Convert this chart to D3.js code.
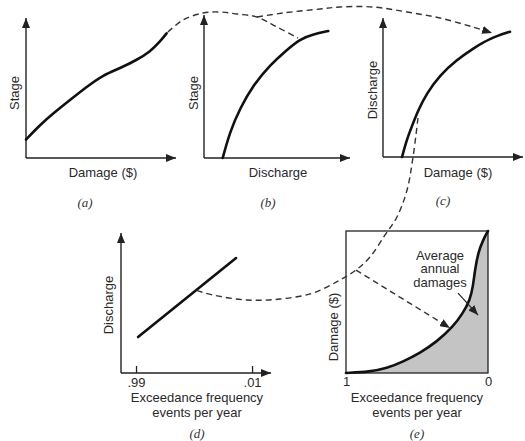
<!DOCTYPE html>
<html>
<head>
<meta charset="utf-8">
<script src="https://cdn.jsdelivr.net/npm/d3@7"></script>
<style>
  body { margin: 0; background: #fff; }
  svg { display: block; }
  .lbl { font-family: "Liberation Sans", Arial, sans-serif; font-size: 13px; fill: #2a2a2a; }
  .tag { font-family: "Liberation Serif", "Times New Roman", serif; font-size: 13px; fill: #333; font-style: italic; }
</style>
</head>
<body>
<script>
"use strict";

// curve shapes, each in its own panel's units (0..10 on both axes)
var curveA = [[0, 1.32], [0.93, 2.36], [1.82, 3.19], [2.93, 4.14], [4.05, 5.09], [5.15, 5.93], [6.27, 6.41],
              [7.38, 7.0], [8.27, 7.59], [8.93, 8.31], [9.38, 8.91]];
var curveB = [[1.28, 0], [1.78, 1.84], [2.47, 3.48], [3.38, 5.10], [4.52, 6.50], [5.66, 7.55], [6.58, 8.32],
              [7.49, 8.65], [8.51, 8.88]];
var curveC = [[1.36, 0], [1.69, 1.22], [2.05, 2.18], [2.52, 3.38], [3.12, 4.58], [4.07, 5.90], [5.26, 6.98],
              [6.45, 7.82], [7.64, 8.54], [9.07, 9.01]];
// panel d: exceedance frequency vs discharge
var lineD = [[0.973, 2.57], [0.145, 8.21]];
var ticksD = [0.99, 0.01];
var tickLabelsD = [".99", ".01"];
// panel e: exceedance frequency vs damage
var curveE = [[1, 0], [0.831, 0.09], [0.713, 0.33], [0.599, 0.8], [0.479, 1.41], [0.361, 2.2], [0.246, 3.26],
              [0.176, 4.23], [0.127, 5.14], [0.106, 6.08], [0.092, 7.25], [0.07, 8.45], [0.035, 9.37], [0, 10]];
var ticksE = [1, 0];

// dashed construction lines (top ones in panel b units, lower ones in panel e units)
var dashAB = [[-2.47, 8.81], [-1.44, 9.65], [-0.07, 10.14], [1.10, 10.21], [2.26, 10.07], [3.63, 9.86], [5.0, 9.16], [6.44, 8.39]];
var dashBC = [[3.63, 9.86], [5.41, 10.14], [7.95, 10.42], [9.32, 10.56], [11.58, 10.56], [13.9, 10.21], [16.16, 9.79], [18.42, 9.16], [19.73, 8.74]];
var dashCD = [[0.493, 17.96], [0.528, 15.21], [0.570, 12.89], [0.641, 10.99], [0.725, 9.72], [0.831, 8.17], [0.930, 7.25],
              [1.042, 6.55], [1.232, 5.63], [1.465, 5.21], [1.697, 5.14], [1.937, 5.49], [2.063, 5.85]];
var dashE = [[0.930, 7.25], [0.268, 3.17]];
var noteArrow = [[0.211, 5.63], [0.070, 4.08]];
var noteLines = ["Average", "annual", "damages"];

var W = 525, H = 441;
var svg = d3.select("body").append("svg").attr("width", W).attr("height", H);

var defs = svg.append("defs");
defs.append("marker").attr("id", "arr")
    .attr("markerUnits", "userSpaceOnUse")
    .attr("markerWidth", 10).attr("markerHeight", 8)
    .attr("refX", 10).attr("refY", 4).attr("orient", "auto")
  .append("path").attr("d", "M0,0 L10,4 L0,8 z").attr("fill", "#222");

// panel scales
var ax = d3.scaleLinear().domain([0, 10]).range([26, 176]),
    ay = d3.scaleLinear().domain([0, 10]).range([158, 18]);
var bx = d3.scaleLinear().domain([0, 10]).range([204, 350]),
    by = d3.scaleLinear().domain([0, 10]).range([158, 15]);
var cx = d3.scaleLinear().domain([0, 10]).range([383, 523]),
    cy = d3.scaleLinear().domain([0, 10]).range([157, 18]);
var dx = d3.scaleLinear().domain([1.117, -0.15]).range([121, 271]),
    dy = d3.scaleLinear().domain([0, 10]).range([373, 233]);
var ex = d3.scaleLinear().domain([1, 0]).range([346, 488]),
    ey = d3.scaleLinear().domain([0, 10]).range([373, 231]);

function lineOf(x, y, curve) {
    return d3.line().x(d => x(d[0])).y(d => y(d[1])).curve(curve || d3.curveCatmullRom);
}

function arrowAxes(x, y) {
    var x0 = x.range()[0], x1 = x.range()[1], y0 = y.range()[0], y1 = y.range()[1];
    var g = svg.append("g").attr("stroke", "#222").attr("stroke-width", 1.4).attr("fill", "none");
    g.append("line").attr("x1", x0).attr("y1", y0).attr("x2", x0).attr("y2", y1).attr("marker-end", "url(#arr)");
    g.append("line").attr("x1", x0).attr("y1", y0).attr("x2", x1).attr("y2", y0).attr("marker-end", "url(#arr)");
}

function text(x, y, s, cls, rot) {
    var t = svg.append("text").attr("class", cls || "lbl").attr("text-anchor", "middle")
        .attr("dominant-baseline", "central").text(s);
    if (rot) t.attr("transform", "translate(" + x + "," + y + ") rotate(-90)");
    else t.attr("x", x).attr("y", y);
    return t;
}

function solid(data, x, y, curve) {
    svg.append("path").datum(data).attr("d", lineOf(x, y, curve || d3.curveBasis))
        .attr("fill", "none").attr("stroke", "#111").attr("stroke-width", 2.6).attr("stroke-linecap", "round");
}

// (e) shaded area first so lines sit on top
svg.append("path").datum(curveE)
    .attr("d", d3.area().x(d => ex(d[0])).y0(ey(0)).y1(d => ey(d[1])).curve(d3.curveBasis))
    .attr("fill", "#c4c4c4");
svg.append("rect").attr("x", ex(1)).attr("y", ey(10)).attr("width", ex(0) - ex(1)).attr("height", ey(0) - ey(10))
    .attr("fill", "none").attr("stroke", "#222").attr("stroke-width", 1.3);

// axes
arrowAxes(ax, ay);
arrowAxes(bx, by);
arrowAxes(cx, cy);
arrowAxes(dx, dy);

var axD = svg.append("g").attr("transform", "translate(0," + dy(0) + ")")
    .call(d3.axisBottom(dx).tickValues(ticksD).tickSize(-7).tickPadding(5).tickFormat((d, i) => tickLabelsD[i]));
axD.select(".domain").remove();
axD.selectAll("line").attr("stroke", "#222").attr("stroke-width", 1.3);
axD.selectAll("text").attr("class", "lbl").attr("font-size", null).attr("font-family", null).attr("fill", null);

var axE = svg.append("g").attr("transform", "translate(0," + ey(0) + ")")
    .call(d3.axisBottom(ex).tickValues(ticksE).tickSize(0).tickPadding(4).tickFormat(d3.format("d")));
axE.select(".domain").remove();
axE.selectAll("text").attr("class", "lbl").attr("font-size", null).attr("font-family", null).attr("fill", null);

// curves
solid(curveA, ax, ay);
solid(curveB, bx, by);
solid(curveC, cx, cy);
solid(lineD, dx, dy, d3.curveLinear);
solid(curveE, ex, ey);

// dashed construction lines
function dashed(data, x, y, arrow, curve) {
    var p = svg.append("path").datum(data).attr("d", lineOf(x, y, curve))
        .attr("fill", "none").attr("stroke", "#333").attr("stroke-width", 1.4).attr("stroke-dasharray", "6,4");
    if (arrow) p.attr("marker-end", "url(#arr)");
}
dashed(dashAB, bx, by, false);
dashed(dashBC, bx, by, true);
dashed(dashCD, ex, ey, false);
dashed(dashE, ex, ey, true, d3.curveLinear);

svg.append("path").datum(noteArrow).attr("d", lineOf(ex, ey, d3.curveLinear))
    .attr("stroke", "#222").attr("stroke-width", 1.2).attr("marker-end", "url(#arr)");

// labels
text(14, 93, "Stage", "lbl", true);
text(103, 172, "Damage ($)");
text(85, 202, "(a)", "tag");

text(193, 93, "Stage", "lbl", true);
text(278, 172, "Discharge");
text(268, 202, "(b)", "tag");

text(372, 90, "Discharge", "lbl", true);
text(458, 172, "Damage ($)");
text(443, 200, "(c)", "tag");

text(108, 305, "Discharge", "lbl", true);
text(197, 397, "Exceedance frequency");
text(197, 412, "events per year");
text(197, 433, "(d)", "tag");

text(333, 327, "Damage ($)", "lbl", true);
text(417, 397, "Exceedance frequency");
text(417, 412, "events per year");
text(417, 433, "(e)", "tag");
noteLines.forEach((s, i) => text(440, 255 + i * 13.5, s));
</script>
</body>
</html>
